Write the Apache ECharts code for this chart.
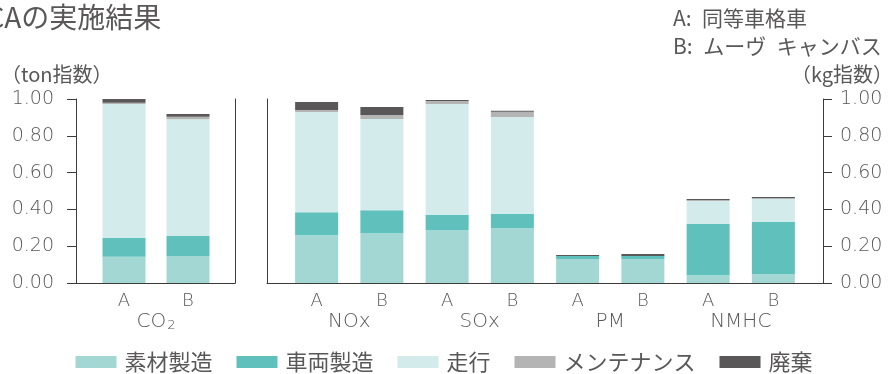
<!DOCTYPE html>
<html><head><meta charset="utf-8">
<script src="https://cdn.jsdelivr.net/npm/echarts@6/dist/echarts.min.js"></script>
<style>html,body{margin:0;padding:0;background:#fff}#c{width:888px;height:374px}</style>
</head><body><div id="c"></div>
<script>
// ---- data ----
const barLabels = ['A','B','A','B','A','B','A','B','A','B'];
const groups = ['CO2','NOx','SOx','PM','NMHC'];
const seriesNames = ['素材製造','車両製造','走行','メンテナンス','廃棄'];
const material    = [0.142,0.147,0.260,0.271,0.287,0.298,0.130,0.130,0.042,0.047];
const vehicle     = [0.103,0.109,0.125,0.125,0.084,0.077,0.017,0.017,0.279,0.285];
const driving     = [0.728,0.634,0.544,0.495,0.602,0.527,0.000,0.000,0.125,0.125];
const maintenance = [0.007,0.014,0.011,0.022,0.016,0.029,0.000,0.000,0.005,0.005];
const disposal    = [0.022,0.014,0.044,0.044,0.006,0.005,0.005,0.011,0.006,0.005];
const yMin = 0, yMax = 1, yStep = 0.2;
const titleText = 'LCAの実施結果';
const leftUnit = '（ton指数）';
const rightUnit = '（kg指数）';
const noteA = 'A:\u2002同等車格車';
const noteB = 'B:\u2002ムーヴ\u2002キャンバス';

// ---- styles ----
const colors = ['#a2d7d3','#5fc0bc','#d3ebeb','#b4b4b5','#595757'];
const txt = '#595757';
const axisCol = '#3e3a39';
const jp = '"Noto Sans CJK JP", "Noto Sans", sans-serif';
const num = '"DejaVu Sans", "Noto Sans", sans-serif';
const values = [material, vehicle, driving, maintenance, disposal];

const chart = echarts.init(document.getElementById('c'), null, {renderer: 'canvas'});

const lineOnly = (gi, pos) => ({
  type: 'value', gridIndex: gi, position: pos, min: yMin, max: yMax, interval: yStep,
  axisLine: {show: true, lineStyle: {color: axisCol, width: 1}},
  axisTick: {show: false}, axisLabel: {show: false}, splitLine: {show: false}
});
const labelled = (gi, pos, margin) => ({
  type: 'value', gridIndex: gi, position: pos, min: yMin, max: yMax, interval: yStep,
  axisLine: {show: true, lineStyle: {color: axisCol, width: 1}},
  axisTick: {show: true, inside: false, length: 9, lineStyle: {color: axisCol}},
  axisLabel: {show: true, margin: margin, color: txt, fontSize: 19, fontFamily: num, fontWeight: 200,
    formatter: v => v.toFixed(2)},
  splitLine: {show: false}
});
const hiddenY = gi => ({type: 'value', gridIndex: gi, min: yMin, max: yMax, interval: yStep, show: false});
const frameX = gi => ({
  type: 'category', gridIndex: gi, data: [''], position: 'bottom',
  axisLine: {show: true, lineStyle: {color: axisCol, width: 1}},
  axisTick: {show: false}, axisLabel: {show: false}
});
const barX = (gi, data) => ({
  type: 'category', gridIndex: gi, data: data, position: 'bottom',
  axisLine: {show: false}, axisTick: {show: false},
  axisLabel: {interval: 0, margin: 9, color: txt, fontSize: 18, fontFamily: num, fontWeight: 200}
});
const groupX = (gi, data) => ({
  type: 'category', gridIndex: gi, data: data, position: 'bottom',
  axisLine: {show: false}, axisTick: {show: false},
  axisLabel: {interval: 0, margin: 29, color: txt, fontSize: 20, fontFamily: num, fontWeight: 200,
    formatter: v => v === 'CO2' ? '{n|CO}{s|2}' : '{n|' + v + '}',
    rich: {n: {fontSize: 20, fontFamily: num, fontWeight: 200, color: txt},
           s: {fontSize: 13, fontFamily: num, fontWeight: 200, color: txt, padding: [7, 0, 0, 1]}}}
});

const series = [];
seriesNames.forEach((nm, i) => {
  series.push({type: 'bar', name: nm, xAxisIndex: 1, yAxisIndex: 2, stack: 'co2', barWidth: 43,
    itemStyle: {color: colors[i]}, data: values[i].slice(0, 2)});
  series.push({type: 'bar', name: nm, xAxisIndex: 4, yAxisIndex: 5, stack: 'oth', barWidth: 43,
    itemStyle: {color: colors[i]}, data: values[i].slice(2)});
});

chart.setOption({
  animation: false,
  backgroundColor: '#fff',
  color: colors,
  grid: [
    {left: 76, width: 159, top: 99, height: 184},
    {left: 92, width: 128, top: 99, height: 184},
    {left: 267, width: 556, top: 99, height: 184},
    {left: 284, width: 522, top: 99, height: 184}
  ],
  xAxis: [
    frameX(0),
    barX(1, barLabels.slice(0, 2)),
    groupX(1, groups.slice(0, 1)),
    frameX(2),
    barX(3, barLabels.slice(2)),
    groupX(3, groups.slice(1))
  ],
  yAxis: [
    labelled(0, 'left', 22),
    lineOnly(0, 'right'),
    hiddenY(1),
    lineOnly(2, 'left'),
    labelled(2, 'right', 17),
    hiddenY(3)
  ],
  legend: {
    data: seriesNames, left: 'center', top: 351, icon: 'rect',
    itemWidth: 41, itemHeight: 12, itemGap: 24, padding: 0,
    textStyle: {color: txt, fontSize: 22, fontFamily: jp, padding: [0, 0, 0, 3]}
  },
  graphic: [
    {type: 'text', x: -28, y: 17, style: {text: titleText, fontSize: 28, fontFamily: jp, fill: txt, verticalAlign: 'middle', align: 'left'}},
    {type: 'text', x: 1, y: 74, style: {text: leftUnit, fontSize: 20, fontFamily: jp, fill: txt, verticalAlign: 'middle', align: 'left'}},
    {type: 'text', x: 893, y: 74, style: {text: rightUnit, fontSize: 20, fontFamily: jp, fill: txt, verticalAlign: 'middle', align: 'right'}},
    {type: 'text', x: 673, y: 18, style: {text: noteA, fontSize: 21, fontFamily: jp, fill: txt, verticalAlign: 'middle', align: 'left'}},
    {type: 'text', x: 673, y: 46, style: {text: noteB, fontSize: 21, fontFamily: jp, fill: txt, verticalAlign: 'middle', align: 'left'}}
  ],
  series: series
});
</script>
</body></html>
